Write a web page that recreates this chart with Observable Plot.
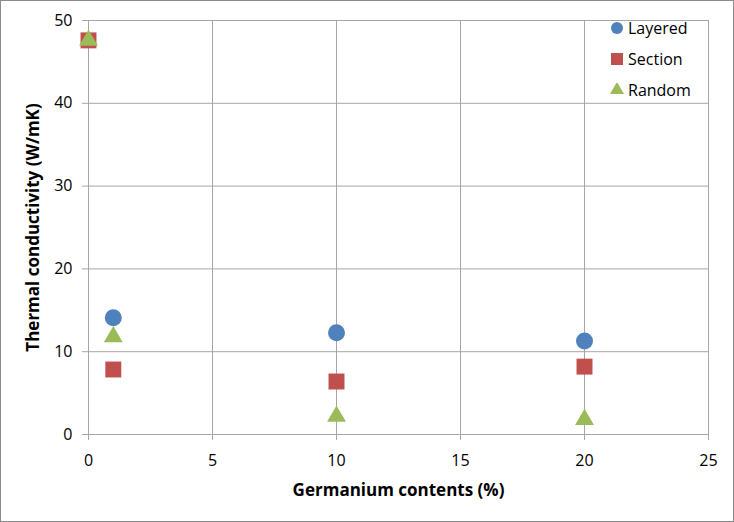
<!DOCTYPE html>
<html><head><meta charset="utf-8">
<script src="https://cdn.jsdelivr.net/npm/d3@7"></script>
<script src="https://cdn.jsdelivr.net/npm/@observablehq/plot@0.6"></script>
<style>
body{margin:0;background:#fff;}
#wrap{position:relative;width:734px;height:522px;font-family:"Open Sans",sans-serif;}
#border{position:absolute;left:0;top:0;width:732px;height:520px;border:1px solid #8c8c8c;pointer-events:none;}
#legend{position:absolute;left:610px;top:12px;font-size:16px;color:#000;}
#legend div{height:31px;display:flex;align-items:center;}
#legend svg{margin-right:4px;}
</style></head>
<body><div id="wrap"><div id="border"></div><div id="legend"></div></div>
<script>
const xValues = [0, 1, 10, 20];
const layered = [null, 14.1, 12.3, 11.3];
const section = [47.6, 7.85, 6.4, 8.2];
const random = [47.6, 11.8, 2.2, 1.8];
const seriesNames = ["Layered", "Section", "Random"];
const seriesColors = ["#4f81bd", "#c0504d", "#9bbb59"];
const xTicks = [0, 5, 10, 15, 20, 25];
const yTicks = [0, 10, 20, 30, 40, 50];

const toRows = (vals) => xValues.map((x, i) => ({x, y: vals[i]}));

const chart = Plot.plot({
  width: 734, height: 522,
  marginLeft: 88, marginRight: 26, marginTop: 20, marginBottom: 88,
  style: {fontFamily: "Open Sans, sans-serif", fontSize: "16px", color: "#000", background: "transparent"},
  x: {domain: [0, 25]},
  y: {domain: [0, 50]},
  marks: [
    Plot.gridX(xTicks, {stroke: "#a6a6a6", strokeOpacity: 1}),
    Plot.gridY(yTicks, {stroke: "#a6a6a6", strokeOpacity: 1}),
    Plot.axisX(xTicks, {tickSize: 6, tickPadding: 14, stroke: "#a6a6a6", fill: "#000", fontSize: 16, label: null}),
    Plot.axisY(yTicks, {tickSize: 6, tickPadding: 10, stroke: "#a6a6a6", fill: "#000", fontSize: 16, label: null}),
    Plot.dot(toRows(layered), {x: "x", y: "y", symbol: "circle", r: 8.5, fill: seriesColors[0], stroke: "none"}),
    Plot.dot(toRows(section), {x: "x", y: "y", symbol: "square", r: 9, fill: seriesColors[1], stroke: "none"}),
    Plot.dot(toRows(random), {x: "x", y: "y", symbol: "triangle", r: 7, fill: seriesColors[2], stroke: "none"}),
    Plot.text(["Germanium contents (%)"], {frameAnchor: "bottom", dy: 61, fontWeight: "bold", fontSize: 17}),
    Plot.text(["Thermal conductivity (W/mK)"], {frameAnchor: "left", dx: -55, rotate: -90, textAnchor: "middle", fontWeight: "bold", fontSize: 17})
  ]
});
document.getElementById("wrap").prepend(chart);

const legend = document.getElementById("legend");
const syms = [d3.symbolCircle, d3.symbolSquare, d3.symbolTriangle];
const sizes = [Math.PI*6*6, 12*12, Math.PI*5.2*5.2];
seriesNames.forEach((name, i) => {
  const row = document.createElement("div");
  const s = d3.create("svg").attr("width", 14).attr("height", 14);
  s.append("path").attr("transform", "translate(7,7)").attr("d", d3.symbol(syms[i], sizes[i])()).attr("fill", seriesColors[i]);
  row.appendChild(s.node());
  row.appendChild(document.createTextNode(name));
  legend.appendChild(row);
});
</script>
</body></html>
